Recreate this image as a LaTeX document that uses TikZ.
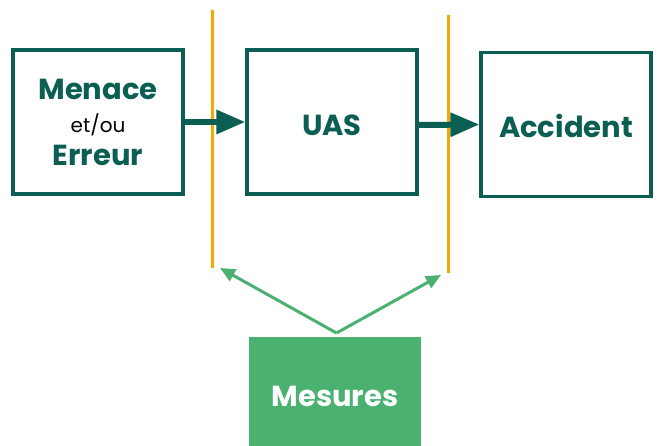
\documentclass[tikz,border=0pt]{standalone}
\usepackage{fontspec}
\setmainfont{Poppins}
\usetikzlibrary{arrows.meta}
\definecolor{teal}{HTML}{0B5E52}
\definecolor{leaf}{HTML}{4AB170}
\definecolor{amber}{HTML}{F5A800}
\newcommand\lowered[2]{\raisebox{-#1}[\height][\depth]{#2}}
\tikzset{
  stage/.style={draw=teal, line width=3.2pt, minimum width=170pt, minimum height=144pt,
    inner sep=0pt, align=center, text=teal, font=\bfseries\fontsize{29}{32}\selectfont},
  flow/.style={draw=teal, line width=6pt, -{Triangle[length=29pt,width=23pt]}},
  barrier/.style={draw=amber, line width=3pt},
  measure/.style={draw=leaf, line width=3pt, -{Triangle[length=15pt,width=13pt]}},
}
\begin{document}
\begin{tikzpicture}[x=1pt,y=-1pt]
\useasboundingbox (0,0) rectangle (659,446);
% process boxes
\node[stage] (threat) at (98,122) {Menace\\[1pt]{\normalfont\color{black}\fontsize{20}{22}\selectfont et/ou}\\[1pt]Erreur};
\node[stage] (uas) at (332,122) {\lowered{3pt}{UAS}};
\node[stage] (acc) at (566,124.5) {\lowered{2pt}{Accident}};
% barriers
\coordinate (b1t) at (212,10);
\coordinate (b1b) at (212,268);
\coordinate (b2t) at (448,15);
\coordinate (b2b) at (448,273);
\draw[barrier] (b1t) -- (b1b);
\draw[barrier] (b2t) -- (b2b);
% flow arrows
\draw[flow] (threat.east) -- (uas.west);
\draw[flow] (uas.east |- 0,125) -- (acc.west);
% measures
\node[fill=leaf, minimum width=172pt, minimum height=109pt, inner sep=0pt,
  text=white, font=\bfseries\fontsize{29}{32}\selectfont] (mes) at (335,391.5) {\lowered{5pt}{Mesures}};
\coordinate (m0) at (336.5,333);
\coordinate (t1) at (220,268);
\coordinate (t2) at (441,275);
\draw[measure] (m0) -- (t1);
\draw[measure] (m0) -- (t2);
\end{tikzpicture}
\end{document}
